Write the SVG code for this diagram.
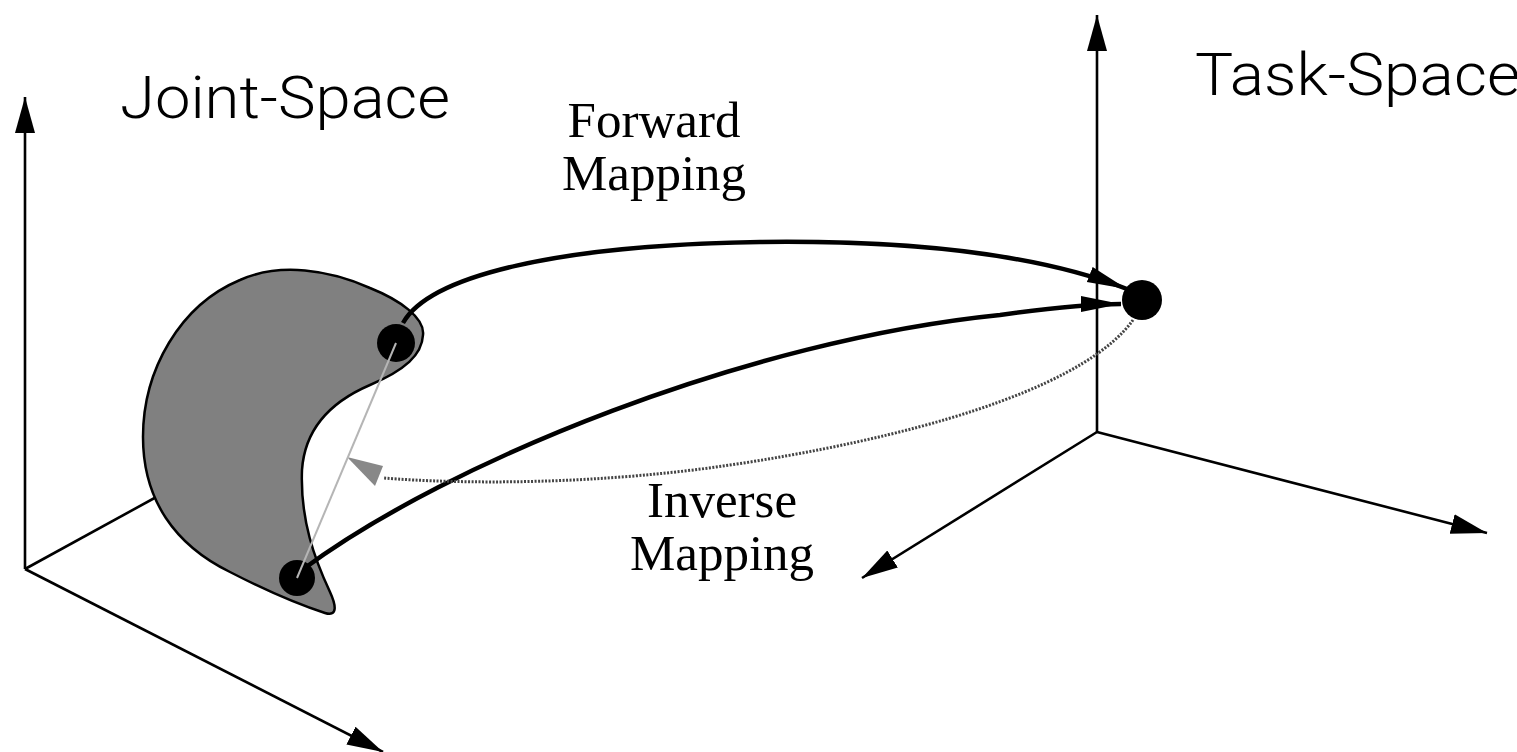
<svg xmlns="http://www.w3.org/2000/svg" width="1517" height="752" viewBox="0 0 1517 752">
<style>
.axis{fill:none;stroke:#000;stroke-width:2.6}
.curve{fill:none;stroke:#000;stroke-width:4.5}
.dotted{fill:none;stroke:#444;stroke-width:3;stroke-dasharray:2 1.5}
.dot{fill:#000}
.title{font-family:Roboto,"Liberation Sans",Arial,sans-serif;font-weight:300;font-size:60px;fill:#000}
.label{font-family:"Liberation Serif","Times New Roman",serif;font-size:51px;fill:#000;text-anchor:middle}
</style>
<defs>
<marker id="axhead" markerUnits="userSpaceOnUse" markerWidth="40" markerHeight="24" refX="36" refY="10" orient="auto">
<path d="M0,0 L36,10 L0,20 Z" fill="#000"/>
</marker>
<marker id="cvhead" markerUnits="userSpaceOnUse" markerWidth="44" markerHeight="20" refX="40" refY="8" orient="auto">
<path d="M0,0 L40,8 L0,16 Z" fill="#000"/>
</marker>
</defs>
<rect width="1517" height="752" fill="#fff"/>

<g id="joint-axes">
<line class="axis" x1="25" y1="569" x2="25" y2="97" marker-end="url(#axhead)"/>
<line class="axis" x1="25" y1="569" x2="160" y2="495"/>
<line class="axis" x1="25" y1="569" x2="383" y2="752" marker-end="url(#axhead)"/>
</g>

<g id="task-axes">
<line class="axis" x1="1097" y1="432" x2="1097" y2="15" marker-end="url(#axhead)"/>
<line class="axis" x1="1097" y1="432" x2="862" y2="578" marker-end="url(#axhead)"/>
<line class="axis" x1="1097" y1="432" x2="1487" y2="533" marker-end="url(#axhead)"/>
</g>

<g id="joint-region">
<path d="M423,335 C425,318 400,300 370,288 C330,270 280,262 240,280 C180,305 143,370 143,437 C143,500 175,545 230,572 C265,590 300,605 325,613 C338,617 336,605 330,592 C315,560 300,520 302,470 C305,425 335,400 370,385 C405,370 422,355 423,335 Z" fill="#808080" stroke="#000" stroke-width="2.5"/>
</g>

<g id="connectors">
<path id="forward" class="curve" d="M403,323 C430,275 560,245 760,242 C920,240 1040,255 1127,289" marker-end="url(#cvhead)"/>
<path id="forward2" class="curve" d="M302,570 C450,460 750,340 1000,315 C1050,308 1090,304 1121,304" marker-end="url(#cvhead)"/>
<path id="inverse" class="dotted" d="M1133,320 C1090,380 950,430 750,462 C600,486 460,484 383,478"/>
<path d="M347,457 L383,466 L375,486 Z" fill="#888"/>
</g>

<g id="upper-dot"><circle class="dot" cx="396" cy="343" r="19"/></g>
<g id="lower-dot"><circle class="dot" cx="297" cy="578" r="18"/></g>
<g id="target-dot"><circle class="dot" cx="1142" cy="300" r="20"/></g>

<g id="chord">
<line x1="396" y1="343" x2="297" y2="578" stroke="#b5b5b5" stroke-width="2"/>
</g>

<g id="labels">
<text class="title" x="120" y="118" textLength="330" lengthAdjust="spacingAndGlyphs">Joint-Space</text>
<text class="title" x="1195" y="95" textLength="325" lengthAdjust="spacingAndGlyphs">Task-Space</text>
<text class="label" x="654" y="137">Forward</text>
<text class="label" x="654" y="190">Mapping</text>
<text class="label" x="722" y="517">Inverse</text>
<text class="label" x="722" y="570">Mapping</text>
</g>
</svg>
